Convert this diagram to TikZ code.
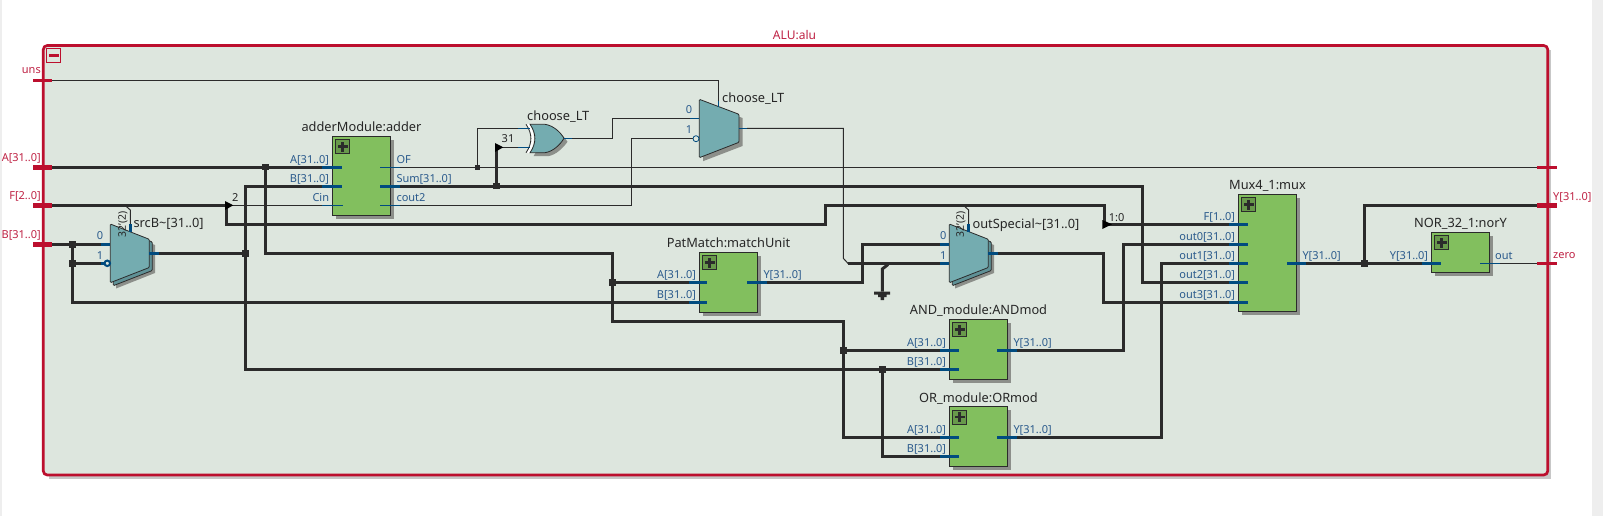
\documentclass[tikz,border=0pt]{standalone}
\usepackage{fontspec}
\setmainfont{Noto Sans}
\usetikzlibrary{calc}
\definecolor{framered}{HTML}{BC0F2E}
\definecolor{panelbg}{HTML}{DDE6DE}
\definecolor{blockgreen}{HTML}{82BF5E}
\definecolor{muxteal}{HTML}{74ACB0}
\definecolor{muxdark}{HTML}{5F9196}
\definecolor{stubblue}{HTML}{004B7F}
\definecolor{wirecol}{HTML}{2B2B2B}
\definecolor{labblue}{HTML}{2A5A8C}
\definecolor{labred}{HTML}{BF2244}
\definecolor{shadowgray}{HTML}{8C8F8A}
\definecolor{guttergray}{HTML}{EEEEEE}
\tikzset{
  x=1pt,y=-1pt,
  bus/.style={draw=wirecol,line width=3pt,line join=miter},
  thinwire/.style={draw=wirecol,line width=1pt,line join=miter},
  busstub/.style={draw=stubblue,line width=3pt},
  thinstub/.style={draw=stubblue,line width=1pt},
  redbus/.style={draw=framered,line width=5pt},
  redthin/.style={draw=framered,line width=3pt},
  junc/.style={fill=wirecol,draw=none,minimum size=6.5pt,inner sep=0,outer sep=0},
  smalljunc/.style={fill=wirecol,draw=none,minimum size=4.5pt,inner sep=0,outer sep=0},
  blockbody/.style={fill=blockgreen,draw=wirecol,line width=1pt,inner sep=0,outer sep=0},
  title/.style={anchor=base,inner sep=0,font=\fontsize{12.8}{15}\selectfont,text=black!85},
  titleleft/.style={title,anchor=base west},
  pinlab/.style={inner sep=0,font=\fontsize{11}{13}\selectfont,text=labblue},
  pinr/.style={pinlab,anchor=base east},
  pinl/.style={pinlab,anchor=base west},
  sellab/.style={pinlab,anchor=base},
  buslab/.style={inner sep=0,anchor=base,font=\fontsize{11}{13}\selectfont,text=black!85},
  portr/.style={inner sep=0,anchor=base east,font=\fontsize{11}{13}\selectfont,text=labred},
  portl/.style={inner sep=0,anchor=base west,font=\fontsize{11}{13}\selectfont,text=labred},
  rotlab/.style={inner sep=0,rotate=90,font=\fontsize{10.5}{12}\selectfont,text=black!85},
  tip/.style={fill=black,draw=none},
}
% block: name, x1, y1, x2, y2, title
\newcommand{\ResBlock}[6]{%
  \fill[shadowgray] (#2+3.5,#3+3.5) rectangle (#4+3.5,#5+3.5);
  \pgfmathsetmacro{\bw}{#4-#2}\pgfmathsetmacro{\bh}{#5-#3}
  \node[blockbody,minimum width=\bw pt,minimum height=\bh pt] (#1) at ({(#2+#4)/2},{(#3+#5)/2}) {};
  \draw[fill=blockgreen!80!black,draw=wirecol,line width=1pt] (#2+3.2,#3+3.3) rectangle (#2+17.2,#3+17.3);
  \fill[wirecol] (#2+5.2,#3+8.9) rectangle (#2+15.2,#3+11.7);
  \fill[wirecol] (#2+8.8,#3+5.3) rectangle (#2+11.6,#3+15.3);
  \node[title] (#1title) at ({(#2+#4)/2},#3-4.6) {#6};
}
% bus mux: x offset from srcB position
\newcommand{\ResMux}[1]{%
  \begin{scope}[xshift=#1pt]
  \fill[shadowgray] (116,230) -- (155,245) -- (155,273) -- (116,288.5) -- cycle;
  \filldraw[fill=muxdark,draw=wirecol,line width=.8pt,rounded corners=1pt] (113.3,227) -- (152.3,242) -- (152.3,270.5) -- (113.3,285.7) -- cycle;
  \filldraw[fill=muxteal,draw=wirecol,line width=.8pt,rounded corners=1pt] (110.3,224) -- (149.3,239.3) -- (149.3,267.5) -- (110.3,282.7) -- cycle;
  \end{scope}
}
\begin{document}
\begin{tikzpicture}
\useasboundingbox (0,0) rectangle (1603,516);
\fill[white] (0,0) rectangle (1603,516);
\fill[guttergray] (0,0) rectangle (2,516);
\fill[guttergray] (1592,0) rectangle (1603,516);
% frame
\fill[black!22] (49,50) -- (1551,50) -- (1551,479) -- (49,479) -- cycle;
\filldraw[fill=panelbg,draw=framered,line width=2.7pt,rounded corners=4pt] (43.3,45.5) rectangle (1547.7,475);
\node[inner sep=0,anchor=base,font=\fontsize{12}{14}\selectfont,text=labred] (alutitle) at (794.5,40) {ALU:alu};
\node[draw=framered,line width=1pt,minimum size=14.4pt,inner sep=0,outer sep=0] (minusbox) at (53.5,55.5) {};
\fill[framered] (48.7,53.8) rectangle (59,56.8);
% blocks
\ResBlock{adder}{332.3}{136.3}{390.7}{215.7}{adderModule:adder}
\ResBlock{match}{699.3}{252.3}{757.7}{312.7}{PatMatch:matchUnit}
\ResBlock{andmod}{949.3}{319.3}{1007.7}{379.3}{AND\_module:ANDmod}
\ResBlock{ormod}{949.3}{406.7}{1007.7}{466}{OR\_module:ORmod}
\ResBlock{muxfour}{1238.3}{194.3}{1296.7}{311.7}{Mux4\_1:mux}
\ResBlock{nory}{1431.3}{232.3}{1489.7}{272.7}{NOR\_32\_1:norY}
% ports
\coordinate (pU) at (52,80.3);
\coordinate (pA) at (52,167);
\coordinate (pF) at (52,205.3);
\coordinate (pB) at (52,244.3);
\coordinate (pOF) at (1537.3,167.3);
\coordinate (pY) at (1537.3,205.3);
\coordinate (pZ) at (1537.3,263.3);
% pins
\coordinate (addA) at (322,167); \coordinate (addB) at (322,186); \coordinate (addC) at (322,205.3);
\coordinate (addOF) at (400,167.3); \coordinate (addS) at (400,186); \coordinate (addCo) at (400,205.3);
\coordinate (mA) at (689.3,282.3); \coordinate (mB) at (689.3,302.3); \coordinate (mY) at (767,282.3);
\coordinate (andA) at (940,350.3); \coordinate (andB) at (940,369.3); \coordinate (andY) at (1017,350.3);
\coordinate (orA) at (940,437.3); \coordinate (orB) at (940,456.3); \coordinate (orY) at (1017,437.3);
\coordinate (xF) at (1229.3,224.3); \coordinate (x0) at (1229.3,244.3); \coordinate (x1) at (1229.3,263.3);
\coordinate (x2) at (1229.3,282.3); \coordinate (x3) at (1229.3,302.3); \coordinate (xY) at (1306,263.3);
\coordinate (nA) at (1422,263.3); \coordinate (nO) at (1500,263.3);
\coordinate (s0) at (101,244.3); \coordinate (s1) at (101,263.3); \coordinate (sY) at (159,253.3);
\coordinate (o0) at (940,244.3); \coordinate (o1) at (940,263.7); \coordinate (oY) at (998,253.3);
\coordinate (cI0) at (690,118.3); \coordinate (cI1) at (693,138.7); \coordinate (cY) at (747,128.3);
\coordinate (xoA) at (522,128.3); \coordinate (xoB) at (522,147.3); \coordinate (xoY) at (572,138.3);
% bends
\coordinate (bA1) at (612.3,253.3); \coordinate (bA2) at (612.3,321);
\coordinate (bF1) at (226.5,224.3); \coordinate (bF2) at (825,224.3); \coordinate (bF3) at (825,205.3);
\coordinate (bF4) at (1104,205.3); \coordinate (aF1) at (226.5,205.3); \coordinate (aF2) at (1104,224.3);
\coordinate (bS) at (1142,186); \coordinate (bC1) at (612.3,118.3);
\coordinate (bG1) at (843.3,258.3); \coordinate (bG2) at (848.3,263.7);
\coordinate (aX) at (496.3,147.3);
\coordinate (uT) at (718.3,106.7);
\coordinate (bCo) at (631.3,205.3);
\coordinate (bM) at (862.3,282.3);
\coordinate (bO) at (1103.3,253.3);
\coordinate (bAnd) at (1123.3,350.3);
\coordinate (bOr) at (1161.7,437.3);
% junction positions
\coordinate (cjA1) at (265.3,167); \coordinate (cjA2) at (612.3,282.3); \coordinate (cjA3) at (843.3,350.3);
\coordinate (cjB1) at (72.3,244.3); \coordinate (cjB2) at (72.3,263.3);
\coordinate (cjS1) at (245.3,253.3); \coordinate (cjS2) at (882.3,369.3);
\coordinate (cjSum) at (496.3,186); \coordinate (cjO) at (477.3,167.3); \coordinate (cjY) at (1364.3,263.3);
% thin wires
\draw[thinwire] (pU) -| (uT);
\draw[thinwire] (addOF) -- (pOF);
\draw[thinwire] (cjO) |- (xoA);
\draw[thinwire] (aX) -- (xoB);
\draw[thinwire] (xoY) -| (bC1) -- (cI0);
\draw[thinwire] (addCo) -- (bCo) |- (cI1);
\draw[thinwire] (cY) -| (bG1) -- (bG2);
\draw[thinwire] (aF1) -- (addC);
\draw[thinwire] (nO) -- (pZ);
\draw[thinwire] (125,205.3) -- (130.3,210) -- (130.3,224);
\draw[thinwire] (963.5,205.3) -- (968.6,210) -- (968.6,224);
% buses
\draw[bus] (pA) -- (addA);
\draw[bus] (cjA1) |- (bA1) -- (bA2) -| (cjA3) |- (orA);
\draw[bus] (cjA2) -- (mA);
\draw[bus] (cjA3) -- (andA);
\draw[bus] (pB) -- (s0);
\draw[bus] (cjB1) -- (cjB2) -- (s1);
\draw[bus] (cjB2) |- (mB);
\draw[bus] (sY) -- (cjS1);
\draw[bus] (addB) -| (cjS1) |- (andB);
\draw[bus] (cjS2) |- (orB);
\draw[bus] (pF) -- (aF1);
\draw[bus] (aF1) -- (bF1) -- (bF2) -- (bF3) -- (bF4) -- (aF2) -- (xF);
\draw[bus] (addS) -- (bS) |- (x2);
\draw[bus] (cjSum) -- (aX);
\draw[bus] (mY) -- (bM) |- (o0);
\draw[bus] (bG2) -- (o1);
\draw[bus] (oY) -- (bO) |- (x3);
\draw[bus] (andY) -- (bAnd) |- (x0);
\draw[bus] (orY) -- (bOr) |- (x1);
\draw[bus] (xY) -- (nA);
\draw[bus] (cjY) |- (pY);
% ground
\coordinate (gndT) at (882.3,291.7);
\draw[draw=wirecol,line width=3pt] (888,264.5) -- (882.3,269) -- (gndT);
\fill[wirecol] (874,291.5) -- (890,291.5) -- (890,294.5) -- (886.5,294.5) -- (886.5,297) -- (884,297) -- (884,300) -- (880.6,300) -- (880.6,297) -- (878,297) -- (878,294.5) -- (874,294.5) -- cycle;
% muxes
\ResMux{0}
\ResMux{839}
\fill[shadowgray] (703,103) -- (742.5,118) -- (742.5,146) -- (703,161.2) -- cycle;
\filldraw[fill=muxteal,draw=wirecol,line width=.8pt,rounded corners=1pt] (699.3,99.3) -- (739,114.3) -- (739,142.3) -- (699.3,157.7) -- cycle;
% xor
\fill[shadowgray] (533.5,127.8) -- (548,127.8) .. controls (556,129) and (563,135) .. (567.5,141.8) .. controls (563,148) and (556,155) .. (548,156.2) -- (533.5,156.2) .. controls (540,147) and (540,137) .. (533.5,127.8) -- cycle;
\filldraw[fill=muxteal,draw=wirecol,line width=.8pt] (530,124.3) -- (545,124.3) .. controls (553,125.5) and (560,131.5) .. (564,138.3) .. controls (560,145) and (553,151.5) .. (545,152.7) -- (530,152.7) .. controls (536.5,143.5) and (536.5,133.5) .. (530,124.3) -- cycle;
\draw[white,line width=2.2pt] (527.8,124.3) .. controls (534.3,133.5) and (534.3,143.5) .. (527.8,152.7);
\draw[wirecol,line width=.8pt] (526,124.3) .. controls (532.5,133.5) and (532.5,143.5) .. (526,152.7);
% stubs
\draw[busstub] (addA) -- ++(19.7,0);
\draw[busstub] (addB) -- ++(19.7,0);
\draw[thinstub] (addC) -- ++(21,0);
\draw[thinstub] (addOF) -- ++(-20,0);
\draw[busstub] (addS) -- ++(-20,0);
\draw[thinstub] (addCo) -- ++(-20,0);
\draw[busstub] (mA) -- ++(18,0);
\draw[busstub] (mB) -- ++(18,0);
\draw[busstub] (mY) -- ++(-20,0);
\draw[busstub] (andA) -- ++(19,0);
\draw[busstub] (andB) -- ++(19,0);
\draw[busstub] (andY) -- ++(-20,0);
\draw[busstub] (orA) -- ++(19,0);
\draw[busstub] (orB) -- ++(19,0);
\draw[busstub] (orY) -- ++(-20,0);
\foreach \p in {xF,x0,x1,x2,x3}{\draw[busstub] (\p) -- ++(18.7,0);}
\draw[busstub] (xY) -- ++(-19,0);
\draw[busstub] (nA) -- ++(19,0);
\draw[thinstub] (nO) -- ++(-20,0);
\draw[busstub] (s0) -- ++(9.3,0);
\draw[busstub] (s1) -- ++(3,0);
\draw[busstub] (sY) -- ++(-9.7,0);
\draw[busstub] (o0) -- ++(9.3,0);
\draw[busstub] (o1) -- ++(9.3,0);
\draw[busstub] (oY) -- ++(-9.7,0);
\draw[busstub] (130.3,224) -- (130.3,231.5);
\draw[busstub] (968.6,224) -- (968.6,231.5);
\draw[thinstub] (cI0) -- ++(9.3,0);
\draw[thinstub] (cY) -- ++(-8,0);
\draw[thinstub] (518,128.3) -- ++(12,0);
\draw[thinstub] (518,147.3) -- ++(12,0);
\draw[thinstub] (xoY) -- ++(-8,0);
\draw[thinstub] (718.3,106.7) -- (718.3,101);
% inversion circles
\node[circle,draw=stubblue,fill=panelbg,line width=2pt,minimum size=5.5pt,inner sep=0] (invS) at (107.3,263.3) {};
\node[circle,draw=stubblue,fill=panelbg,line width=.8pt,minimum size=6pt,inner sep=0] (invC) at (696,138.7) {};
% arrow tips
\fill[tip] (225,201) -- (233.3,205.3) -- (225,210) -- cycle;
\fill[tip] (1102.3,220) -- (1112,224.3) -- (1102.3,229) -- cycle;
\fill[tip] (495,143) -- (503.3,147.3) -- (495,152) -- cycle;
% junctions
\node[junc] (jA1) at (cjA1) {}; \node[junc] (jA2) at (cjA2) {}; \node[junc] (jA3) at (cjA3) {};
\node[junc] (jB1) at (cjB1) {}; \node[junc] (jB2) at (cjB2) {};
\node[junc] (jS1) at (cjS1) {}; \node[junc] (jS2) at (cjS2) {};
\node[junc] (jSum) at (cjSum) {}; \node[smalljunc] (jO) at (cjO) {}; \node[junc] (jY) at (cjY) {};
% red port stubs
\draw[redthin] (33,80.3) -- (pU);
\draw[redbus] (33,167) -- (pA);
\draw[redbus] (33,205.3) -- (pF);
\draw[redbus] (33,244.3) -- (pB);
\draw[redthin] (pOF) -- ++(20,0);
\draw[redbus] (pY) -- ++(20,0);
\draw[redthin] (pZ) -- ++(20,0);
% port labels
\node[portr] (lU) at (41,74) {uns};
\node[portr] (lA) at (41,161) {A[31..0]};
\node[portr] (lF) at (41,199.3) {F[2..0]};
\node[portr] (lB) at (41,238.3) {B[31..0]};
\node[portl] (lY) at (1553,200) {Y[31..0]};
\node[portl] (lZ) at (1553,258) {zero};
% pin labels
\node[pinr] (t01) at (329.3,163.3) {A[31..0]};
\node[pinr] (t02) at (329.3,182.3) {B[31..0]};
\node[pinr] (t03) at (329.3,201.6) {Cin};
\node[pinl] (t04) at (396.3,163.6) {OF};
\node[pinl] (t05) at (396.3,182.3) {Sum[31..0]};
\node[pinl] (t06) at (396.3,201.6) {cout2};
\node[pinr] (t07) at (696.3,278.6) {A[31..0]};
\node[pinr] (t08) at (696.3,298.6) {B[31..0]};
\node[pinl] (t09) at (763.3,278.6) {Y[31..0]};
\node[pinr] (t10) at (946.3,346.6) {A[31..0]};
\node[pinr] (t11) at (946.3,365.6) {B[31..0]};
\node[pinl] (t12) at (1013.3,346.6) {Y[31..0]};
\node[pinr] (t13) at (946.3,433.6) {A[31..0]};
\node[pinr] (t14) at (946.3,452.6) {B[31..0]};
\node[pinl] (t15) at (1013.3,433.6) {Y[31..0]};
\node[pinr] (t16) at (1235.3,220.6) {F[1..0]};
\node[pinr] (t17) at (1235.3,240.6) {out0[31..0]};
\node[pinr] (t18) at (1235.3,259.6) {out1[31..0]};
\node[pinr] (t19) at (1235.3,278.6) {out2[31..0]};
\node[pinr] (t20) at (1235.3,298.6) {out3[31..0]};
\node[pinl] (t21) at (1302.3,259.6) {Y[31..0]};
\node[pinr] (t22) at (1428.3,259.6) {Y[31..0]};
\node[pinl] (t23) at (1495,259.6) {out};
\node[sellab] (t24) at (100,239) {0};
\node[sellab] (t25) at (100,259.3) {1};
\node[sellab] (t26) at (943.3,239) {0};
\node[sellab] (t27) at (943.3,259) {1};
\node[sellab] (t28) at (689,114) {0};
\node[sellab] (t29) at (689,134) {1};
% bus labels
\node[buslab] (t30) at (235.3,201) {2};
\node[buslab] (t31) at (1116.7,221) {1:0};
\node[buslab] (t32) at (508,142.7) {31};
% titles
\node[titleleft] (t33) at (133.3,227.5) {srcB\textasciitilde[31..0]};
\node[titleleft] (t34) at (972.3,228) {outSpecial\textasciitilde[31..0]};
\node[titleleft] (t35) at (722,103) {choose\_LT};
\node[titleleft] (t36) at (527,121) {choose\_LT};
\node[rotlab] (t37) at (123,224) {32'(2)};
\node[rotlab] (t38) at (961,224) {32'(2)};
\end{tikzpicture}
\end{document}
